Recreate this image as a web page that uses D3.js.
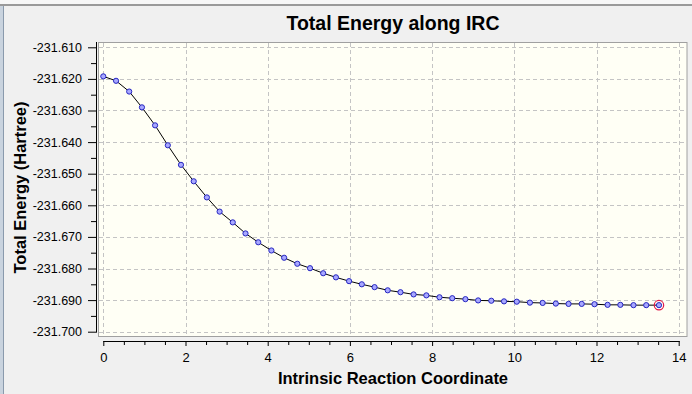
<!DOCTYPE html>
<html>
<head>
<meta charset="utf-8">
<script src="https://cdn.jsdelivr.net/npm/d3@7"></script>
<style>
html,body{margin:0;padding:0;background:#f0f0f0;}
svg{display:block;}
text{font-family:"Liberation Sans",Arial,sans-serif;}
</style>
</head>
<body>
<svg id="chart" width="692" height="394"></svg>
<script>
const title = "Total Energy along IRC";
const xLabel = "Intrinsic Reaction Coordinate";
const yLabel = "Total Energy (Hartree)";

const ircCoord = [0.00,0.31,0.63,0.94,1.26,1.57,1.89,2.20,2.52,2.83,3.15,3.46,3.77,4.09,4.40,4.72,5.03,5.35,5.66,5.98,6.29,6.60,6.92,7.23,7.55,7.86,8.18,8.49,8.81,9.12,9.44,9.75,10.06,10.38,10.69,11.01,11.32,11.64,11.95,12.27,12.58,12.90,13.21,13.52];
const energy = [-231.6192,-231.6206,-231.6240,-231.6290,-231.6347,-231.6410,-231.6472,-231.6524,-231.6575,-231.6620,-231.6654,-231.6689,-231.6717,-231.6743,-231.6766,-231.6785,-231.6799,-231.6815,-231.6828,-231.6840,-231.6850,-231.6859,-231.6869,-231.6875,-231.6882,-231.6885,-231.6891,-231.6894,-231.6897,-231.6901,-231.6902,-231.6904,-231.6905,-231.6908,-231.6909,-231.6911,-231.6912,-231.6912,-231.6913,-231.6915,-231.6915,-231.6916,-231.6916,-231.6916];

const xTicks = [0,2,4,6,8,10,12,14];
const xMinorTicks = [0.5,1,1.5,2.5,3,3.5,4.5,5,5.5,6.5,7,7.5,8.5,9,9.5,10.5,11,11.5,12.5,13,13.5];
const yTicks = [-231.610,-231.620,-231.630,-231.640,-231.650,-231.660,-231.670,-231.680,-231.690,-231.700];
const yMinorTicks = [-231.615,-231.625,-231.635,-231.645,-231.655,-231.665,-231.675,-231.685,-231.695];

const svg = d3.select("#chart");

// window frame
svg.append("rect").attr("x",0).attr("y",0).attr("width",692).attr("height",394).attr("fill","#f0f0f0");
svg.append("rect").attr("x",0).attr("y",0).attr("width",692).attr("height",4).attr("fill","#f7f7f7");
svg.append("line").attr("x1",0).attr("x2",692).attr("y1",5).attr("y2",5).attr("stroke","#9a9a9a").attr("stroke-width",2);
svg.append("rect").attr("x",0).attr("y",6).attr("width",3).attr("height",388).attr("fill","#c9d3de");
svg.append("line").attr("x1",3.5).attr("x2",3.5).attr("y1",6).attr("y2",394).attr("stroke","#8a9aac").attr("stroke-width",1);

const x = d3.scaleLinear().domain([0,14]).range([103.3,678.7]);
const y = d3.scaleLinear().domain([-231.700,-231.610]).range([331.7,47.3]);

// plot box
const box = {l:98, t:42, r:687.5, b:337};
svg.append("rect").attr("x",box.l+0.5).attr("y",box.t+0.5).attr("width",box.r-box.l-1).attr("height",box.b-box.t-1)
  .attr("fill","#fffff5").attr("stroke","#a0a0a0").attr("stroke-width",1);

// grid
const grid = svg.append("g").attr("stroke","#c4c4c4").attr("stroke-dasharray","4,3").attr("stroke-width",1);
grid.selectAll("line.gx").data(xTicks).join("line").attr("class","gx")
  .attr("x1",d=>Math.round(x(d))+0.5).attr("x2",d=>Math.round(x(d))+0.5)
  .attr("y1",box.t+1).attr("y2",box.b-1);
grid.selectAll("line.gy").data(yTicks).join("line").attr("class","gy")
  .attr("y1",d=>Math.round(y(d))+0.5).attr("y2",d=>Math.round(y(d))+0.5)
  .attr("x1",box.l+1).attr("x2",box.r-1);

const fmt = d => d.toFixed(3);

// y axis
const yAxisG = svg.append("g").attr("transform","translate(96,0)");
yAxisG.call(d3.axisLeft(y).tickValues(yTicks).tickSize(8).tickPadding(6).tickFormat(fmt));
yAxisG.append("g").call(d3.axisLeft(y).tickValues(yMinorTicks).tickSize(5).tickFormat(""));
yAxisG.selectAll(".domain").remove();
yAxisG.append("line").attr("x1",0.5).attr("x2",0.5).attr("y1",box.t).attr("y2",y(-231.700)+1).attr("stroke","#000");
yAxisG.selectAll("text").attr("font-size","12.5px").attr("fill","#000").attr("font-family","Liberation Sans, Arial, sans-serif");
yAxisG.selectAll("line").attr("stroke","#000");

// x axis
const xAxisG = svg.append("g").attr("transform","translate(0,341)");
xAxisG.call(d3.axisBottom(x).tickValues(xTicks).tickSize(5).tickPadding(7).tickFormat(d3.format("d")));
xAxisG.append("g").call(d3.axisBottom(x).tickValues(xMinorTicks).tickSize(4).tickFormat(""));
xAxisG.selectAll(".domain").remove();
xAxisG.append("line").attr("x1",x(0)).attr("x2",x(14)+1).attr("y1",0.5).attr("y2",0.5).attr("stroke","#000");
xAxisG.selectAll("text").attr("font-size","13px").attr("fill","#000").attr("font-family","Liberation Sans, Arial, sans-serif");
xAxisG.selectAll("line").attr("stroke","#000");

// line
const pts = ircCoord.map((c,i)=>[c,energy[i]]);
svg.append("path").datum(pts)
  .attr("fill","none").attr("stroke","#000").attr("stroke-width",1)
  .attr("d", d3.line().x(d=>x(d[0])).y(d=>y(d[1])));

// markers
svg.append("g").selectAll("circle").data(pts).join("circle")
  .attr("cx",d=>x(d[0])).attr("cy",d=>y(d[1])).attr("r",2.6)
  .attr("fill","#a8a8ff").attr("stroke","#2626c0").attr("stroke-width",1);

// highlighted current point
const last = pts[pts.length-1];
svg.append("circle").attr("cx",x(last[0])).attr("cy",y(last[1])).attr("r",4.7)
  .attr("fill","none").attr("stroke","#e0184a").attr("stroke-width",1.2);

// titles
svg.append("text").attr("x",393).attr("y",29.5).attr("text-anchor","middle")
  .attr("font-size","19.5px").attr("font-weight","bold").attr("fill","#000").text(title);
svg.append("text").attr("x",393).attr("y",384).attr("text-anchor","middle")
  .attr("font-size","16.5px").attr("font-weight","bold").attr("fill","#000").text(xLabel);
svg.append("text").attr("transform","translate(26,187.5) rotate(-90)").attr("text-anchor","middle")
  .attr("font-size","16.5px").attr("font-weight","bold").attr("fill","#000").text(yLabel);
</script>
</body>
</html>
